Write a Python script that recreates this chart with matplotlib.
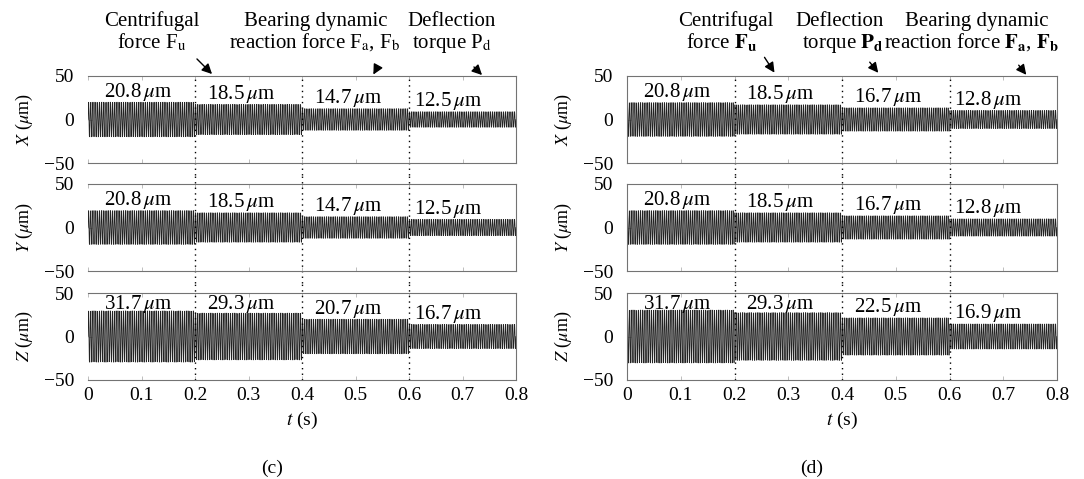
import numpy as np
import matplotlib
matplotlib.use("Agg")
import matplotlib.pyplot as plt

plt.rcParams['font.family'] = ['Liberation Serif', 'DejaVu Serif']
plt.rcParams['mathtext.fontset'] = 'stix'

# ---------------- data ----------------
segment_edges = [0.0, 0.2, 0.4, 0.6, 0.8]
x_ticks = [0, 0.1, 0.2, 0.3, 0.4, 0.5, 0.6, 0.7, 0.8]
x_ticklabels = ['0', '0.1', '0.2', '0.3', '0.4', '0.5', '0.6', '0.7', '0.8']
y_ticks = [-50, 0, 50]
directions = ['X', 'Y', 'Z']
carrier_hz = 290.0      # vibration frequency of the rotor response
n_samples = 4000

# visible envelope amplitudes (um) for each 0.2 s segment, panel (c)
amp_c_x = [20.0, 17.5, 12.5, 9.0]
amp_c_y = [19.5, 17.0, 12.5, 9.5]
amp_c_z = [29.5, 27.0, 20.0, 14.0]
# panel (d)
amp_d_x = [19.5, 17.0, 13.5, 10.5]
amp_d_y = [19.5, 17.0, 13.5, 10.0]
amp_d_z = [30.5, 27.5, 21.5, 14.5]

# annotated peak values (um)
peak_c_x = ['20.8', '18.5', '14.7', '12.5']
peak_c_y = ['20.8', '18.5', '14.7', '12.5']
peak_c_z = ['31.7', '29.3', '20.7', '16.7']
peak_d_x = ['20.8', '18.5', '16.7', '12.8']
peak_d_y = ['20.8', '18.5', '16.7', '12.8']
peak_d_z = ['31.7', '29.3', '22.5', '16.9']

label_x = [0.093, 0.285, 0.485, 0.672]

panels = [
    dict(amps=[amp_c_x, amp_c_y, amp_c_z], peaks=[peak_c_x, peak_c_y, peak_c_z],
         left=88, right=516, tag='(c)', leftspine=False),
    dict(amps=[amp_d_x, amp_d_y, amp_d_z], peaks=[peak_d_x, peak_d_y, peak_d_z],
         left=627, right=1057, tag='(d)', leftspine=True),
]

W, H = 1084, 479
fig = plt.figure(figsize=(W / 100, H / 100), dpi=100)

row_tops = [76, 184, 293]
row_h = 87

t = np.linspace(0.0, 0.8, n_samples)
carrier = np.sin(2 * np.pi * carrier_hz * t)
seg_idx = np.clip(np.searchsorted(segment_edges, t, side='right') - 1, 0, 3)

gray = '0.45'
for p in panels:
    axes = []
    for r in range(3):
        ax = fig.add_axes([p['left'] / W, 1 - (row_tops[r] + row_h) / H,
                           (p['right'] - p['left']) / W, row_h / H])
        env = np.asarray(p['amps'][r])[seg_idx]
        ax.plot(t, env * carrier, color='#222222', lw=0.5)
        ax.set_xlim(0, 0.8)
        ax.set_ylim(-50, 50)
        ax.set_yticks(y_ticks)
        ax.set_yticklabels(['\u221250', '0', '50'])
        ax.set_xticks(x_ticks)
        if r == 2:
            ax.set_xticklabels(x_ticklabels)
        else:
            ax.set_xticklabels([])
        ax.tick_params(direction='in', length=3, color='0.7', width=0.6,
                       top=True, labelsize=14, pad=5)
        ax.tick_params(axis='y', pad=10)
        for s in ax.spines.values():
            s.set_color(gray)
            s.set_linewidth(0.8)
        if not p['leftspine']:
            ax.spines['left'].set_visible(False)
        ax.set_ylabel(f'${directions[r]}$ ($\\mu$m)', fontsize=13, labelpad=6)
        # segment dividers
        lo = -0.14 if r < 2 else 0.0
        hi = 1.14 if r > 0 else 1.0
        for e in segment_edges[1:-1]:
            ax.axvline(e, ymin=lo, ymax=hi, color='black', lw=1.0,
                       ls=(0, (1, 3)), clip_on=False)
        # peak labels
        for k in range(4):
            yv = min(p['amps'][r][k] + 12, 37)
            ax.text(label_x[k], yv, f'{p["peaks"][r][k]}$\\,\\mu$m', fontsize=15,
                    ha='center', va='center')
        axes.append(ax)
    axes[2].set_xlabel('$t$ (s)', fontsize=14, labelpad=4)
    cx = (p['left'] + p['right']) / 2
    fig.text((cx - 30) / W, 1 - 468 / H, p['tag'], fontsize=14,
             ha='center', va='center')


def ftext(x, y, s, **kw):
    fig.text(x / W, 1 - y / H, s, ha='center', va='baseline', fontsize=15, **kw)


def farrow(x0, y0, x1, y1):
    fig.add_artist(matplotlib.patches.FancyArrowPatch(
        (x0 / W, 1 - y0 / H), (x1 / W, 1 - y1 / H), transform=fig.transFigure,
        arrowstyle='-|>,head_length=6,head_width=3', color='black', lw=1.0))


# panel (c) annotations
ftext(152, 26, 'Centrifugal')
ftext(152, 48, 'force F$_\\mathrm{u}$')
ftext(316, 26, 'Bearing dynamic')
ftext(315, 48, 'reaction force F$_\\mathrm{a}$, F$_\\mathrm{b}$')
ftext(452, 26, 'Deflection')
ftext(452, 48, 'torque P$_\\mathrm{d}$')
farrow(195, 57, 214, 76)
farrow(378, 66, 372, 77)
farrow(472, 65, 484, 77)

# panel (d) annotations
ftext(726, 26, 'Centrifugal')
ftext(722, 48, 'force $\\mathbf{F_u}$')
ftext(840, 26, 'Deflection')
ftext(843, 48, 'torque $\\mathbf{P_d}$')
ftext(977, 26, 'Bearing dynamic')
ftext(972, 48, 'reaction force $\\mathbf{F_a}$, $\\mathbf{F_b}$')
farrow(763, 55, 776, 75)
farrow(868, 60, 880, 75)
farrow(1017, 63, 1028, 77)

fig.savefig('out.png', dpi=100)
